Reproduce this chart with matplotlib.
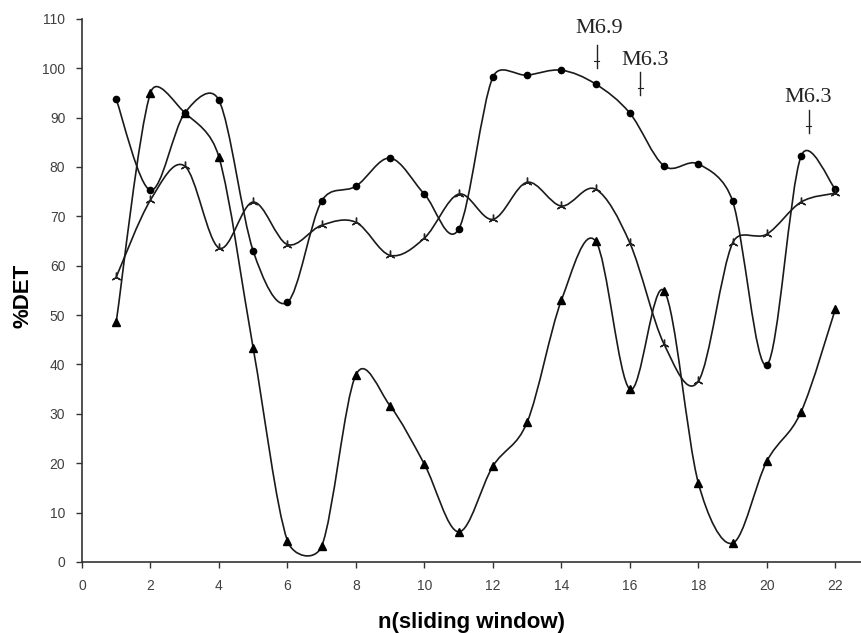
import matplotlib
matplotlib.use('Agg')
import matplotlib.pyplot as plt
import numpy as np
from matplotlib.path import Path
from matplotlib.patches import PathPatch

# datos
n = list(range(1, 23))
det_circulo = [93.7, 75.3, 90.9, 93.5, 63.0, 52.6, 73.1, 76.1, 81.8, 74.5, 67.4,
               98.2, 98.6, 99.6, 96.8, 90.9, 80.2, 80.6, 73.1, 39.9, 82.2, 75.5]
det_triangulo = [48.6, 95.0, 91.0, 82.0, 43.3, 4.3, 3.2, 37.9, 31.6, 19.8, 6.1,
                 19.4, 28.3, 53.0, 65.0, 35.0, 54.9, 16.0, 3.8, 20.4, 30.4, 51.2]
det_estrella = [57.7, 73.3, 80.2, 63.6, 72.9, 64.3, 68.2, 68.8, 62.1, 65.6, 74.5,
                69.4, 76.9, 72.1, 75.5, 64.6, 44.1, 36.6, 64.6, 66.4, 72.9, 74.7]

# sismos marcados
sismos = ['M6.9', 'M6.3', 'M6.3']
sismo_x = [15.03, 16.31, 21.22]
sismo_texto_x = [15.1, 16.45, 21.2]
sismo_texto_y = [108.0, 101.6, 94.1]
flecha_y0 = [104.7, 99.2, 91.5]
flecha_y1 = [100.0, 94.5, 86.8]

fuente_sans = 'Liberation Sans'
fuente_serif = 'Liberation Serif'


# Curva suavizada tipo Excel: tangente 1/6, limitada a medio tramo en pantalla
def curva_suave(ax, xs, ys):
    pts = ax.transData.transform(np.column_stack([xs, ys]))
    verts = [pts[0]]
    codes = [Path.MOVETO]
    for i in range(len(pts) - 1):
        p0 = pts[i - 1] if i > 0 else pts[i]
        p1 = pts[i]
        p2 = pts[i + 1]
        p3 = pts[i + 2] if i + 2 < len(pts) else pts[i + 1]
        d12 = np.hypot(*(p2 - p1))
        o1 = (p2 - p0) / 6
        o2 = (p3 - p1) / 6
        l1 = np.hypot(*o1)
        l2 = np.hypot(*o2)
        if l1 > d12 / 2:
            o1 = o1 * (d12 / 2) / l1
        if l2 > d12 / 2:
            o2 = o2 * (d12 / 2) / l2
        verts += [p1 + o1, p2 - o2, p2]
        codes += [Path.CURVE4] * 3
    verts = ax.transData.inverted().transform(np.array(verts))
    return Path(verts, codes)


fig = plt.figure(figsize=(8.61, 6.33), dpi=100)
ax = fig.add_axes([0.0952, 0.1122, 0.9048, 0.858])
ax.set_xlim(0, 22.75)
ax.set_ylim(0, 110)

color_linea = '#1a1a1a'
for ys in (det_circulo, det_triangulo, det_estrella):
    ax.add_patch(PathPatch(curva_suave(ax, n, ys), facecolor='none',
                           edgecolor=color_linea, lw=1.2, zorder=2))

ax.plot(n, det_circulo, linestyle='none', marker='o', ms=4.5, color='black', zorder=3)
ax.plot(n, det_triangulo, linestyle='none', marker='^', ms=6, color='black', zorder=3)
ax.plot(n, det_estrella, linestyle='none', marker=(3, 2, 0), ms=7, mew=1.0,
        color='#222222', zorder=3)

for i in range(len(sismos)):
    ax.text(sismo_texto_x[i], sismo_texto_y[i], sismos[i], family=fuente_serif,
            fontsize=16, ha='center', va='center', color='#222222')
    ax.plot([sismo_x[i], sismo_x[i]], [flecha_y0[i], flecha_y1[i]], color='#222222', lw=1.0)
    ax.plot([sismo_x[i] - 0.07, sismo_x[i] + 0.07],
            [flecha_y1[i] + 1.5, flecha_y1[i] + 1.5], color='#222222', lw=0.8)

ax.set_xticks(range(0, 23, 2))
ax.set_yticks(range(0, 111, 10))

for lado in ('top', 'right'):
    ax.spines[lado].set_visible(False)
for lado in ('left', 'bottom'):
    ax.spines[lado].set_color('#333333')
    ax.spines[lado].set_linewidth(1.2)

ax.tick_params(direction='out', length=4, width=1, color='#333333',
               labelsize=10, labelcolor='#404040', pad=8)
for lab in ax.get_xticklabels() + ax.get_yticklabels():
    lab.set_family(fuente_sans)

ax.set_xlabel('n(sliding window)', family=fuente_sans, fontsize=16,
              fontweight='bold', labelpad=14)
ax.set_ylabel('%DET', family=fuente_sans, fontsize=16, fontweight='bold')
ax.yaxis.set_label_coords(-0.062, 0.49)

fig.savefig('out.png', dpi=100)
